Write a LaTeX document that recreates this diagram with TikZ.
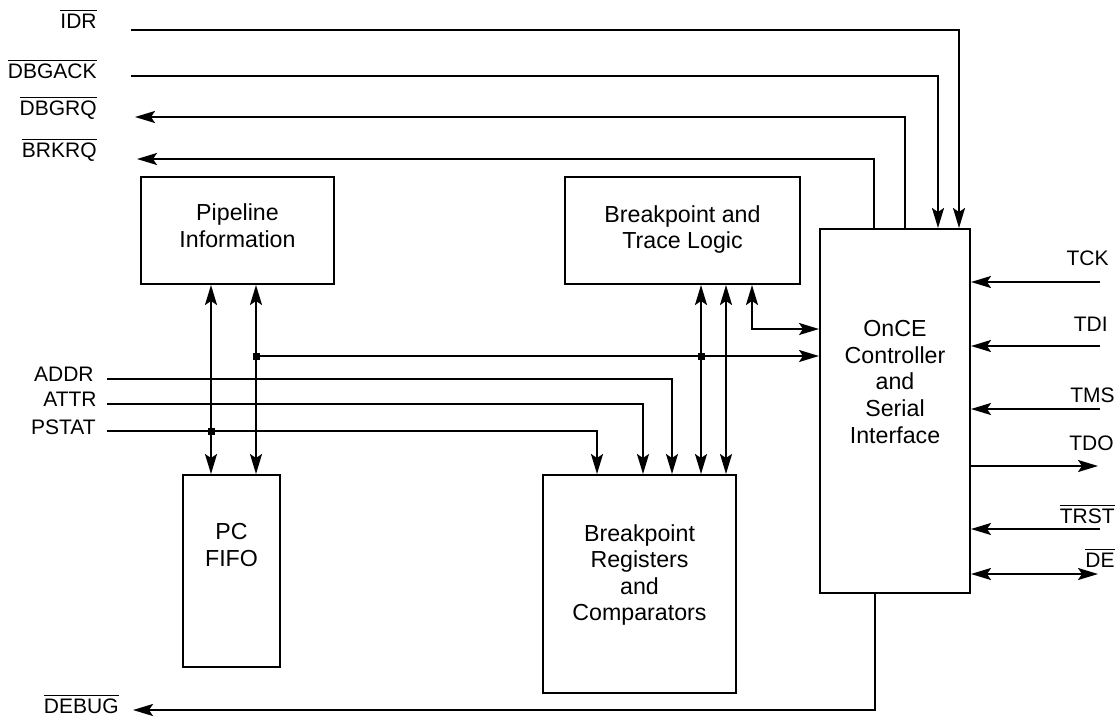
\documentclass[tikz,border=0pt]{standalone}
\usepackage{fontspec}
\setmainfont{Liberation Sans}
\usetikzlibrary{arrows.meta}
\newcommand{\PX}{0.5pt}
\newcommand{\lo}[1]{$\overline{\mbox{#1}}$}

\begin{document}
\begin{tikzpicture}[
    x=\PX, y=-\PX,
    >={Stealth[length=10pt, width=6pt, inset=2pt]},
    wire/.style={draw=black, line width=1pt},
    blk/.style={rectangle, draw=black, line width=1pt, inner sep=0pt},
    txt/.style={align=center, font=\fontsize{11.6}{13.3}\selectfont},
    sig/.style={inner sep=0pt, font=\fontsize{10.5}{12}\selectfont},
    jdot/.style={rectangle, fill=black, minimum size=3.5pt, inner sep=0pt},
  ]
  \useasboundingbox (0,0) rectangle (1118,718);

  % blocks
  \node[blk, minimum width=96.5pt, minimum height=53.5pt,
        label={[txt, yshift=2.5pt]center:Pipeline\\Information}] (pipe) at (237.5,230.5) {};
  \node[blk, minimum width=117.5pt, minimum height=53.5pt,
        label={[txt, yshift=0.5pt]center:Breakpoint and\\Trace Logic}] (trace) at (682.5,230.5) {};
  \node[blk, minimum width=75pt, minimum height=182pt,
        label={[txt, yshift=14.5pt]center:OnCE\\Controller\\and\\Serial\\Interface}] (once) at (895,411) {};
  \node[blk, minimum width=48.5pt, minimum height=96pt,
        label={[txt, yshift=13pt]center:PC\\FIFO}] (fifo) at (231.5,571) {};
  \node[blk, minimum width=96.5pt, minimum height=109pt,
        label={[txt, yshift=4.5pt]center:Breakpoint\\Registers\\and\\Comparators}] (regs) at (639.5,584) {};

  % signal names, left
  \node[sig, anchor=base east] (lidr)    at (97,28)   {\lo{IDR}};
  \node[sig, anchor=base east] (ldbgack) at (97,78)   {\lo{DBGACK}};
  \node[sig, anchor=base east] (ldbgrq)  at (97,115)  {\lo{DBGRQ}};
  \node[sig, anchor=base east] (lbrkrq)  at (97,157)  {\lo{BRKRQ}};
  \node[sig, anchor=base east] (laddr)   at (94,381)  {ADDR};
  \node[sig, anchor=base east] (lattr)   at (97,406)  {ATTR};
  \node[sig, anchor=base east] (lpstat)  at (96,434)  {PSTAT};
  \node[sig, anchor=base east] (ldebug)  at (119,713) {\lo{DEBUG}};

  % signal names, right
  \node[sig, anchor=base east] (ltck)  at (1109,265) {TCK};
  \node[sig, anchor=base east] (ltdi)  at (1108,331) {TDI};
  \node[sig, anchor=base east] (ltms)  at (1115,402) {TMS};
  \node[sig, anchor=base east] (ltdo)  at (1114,450) {TDO};
  \node[sig, anchor=base east] (ltrst) at (1115,523) {\lo{TRST}};
  \node[sig, anchor=base east] (lde)   at (1115,567) {\lo{DE}};

  % free ends of the wires
  \coordinate (idr)    at (131,30);
  \coordinate (dbgack) at (131,76);
  \coordinate (dbgrq)  at (135,117);
  \coordinate (brkrq)  at (137,159);
  \coordinate (debug)  at (133,710);
  \coordinate (addr)   at (107,379);
  \coordinate (attr)   at (107,404);
  \coordinate (pstat)  at (107,431);

  % handshake lines round the top
  \draw[wire, ->] (idr) -| (959,0 |- once.north);
  \draw[wire, ->] (dbgack) -| (938,0 |- once.north);
  \draw[wire, ->] (905,0 |- once.north) |- (dbgrq);
  \draw[wire, ->] (874,0 |- once.north) |- (brkrq);
  \draw[wire, ->] (875,0 |- once.south) |- (debug);

  % JTAG pins
  \foreach \yy/\nm in {282/tck, 346/tdi, 409/tms, 529/trst} {
    \coordinate (\nm) at (1100,\yy);
    \draw[wire, ->] (\nm) -- (\nm -| once.east);
  }
  \coordinate (tdo) at (1098,466);
  \draw[wire, ->] (tdo -| once.east) -- (tdo);
  \coordinate (de) at (1098,574);
  \draw[wire, <->] (de -| once.east) -- (de);

  % bus into the comparators
  \draw[wire, ->] (addr)  -| (672,0 |- regs.north);
  \draw[wire, ->] (attr)  -| (643,0 |- regs.north);
  \draw[wire, ->] (pstat) -| (597,0 |- regs.north);

  % pipeline <-> FIFO
  \draw[wire, <->] (211,0 |- pipe.south) -- (211,0 |- fifo.north);
  \draw[wire, <->] (256,0 |- pipe.south) -- (256,0 |- fifo.north);

  % trace logic <-> comparators
  \draw[wire, <->] (701,0 |- trace.south) -- (701,0 |- regs.north);
  \draw[wire, <->] (726,0 |- trace.south) -- (726,0 |- regs.north);
  \draw[wire, <->] (752,0 |- trace.south) |- (once.west |- 0,329);

  % tapped line to the controller
  \node[jdot] (j1) at (256,356) {};
  \node[jdot] (j2) at (701,356) {};
  \node[jdot] (j3) at (211,431) {};
  \draw[wire, ->] (j1.center) -- (j1 -| once.west);

\end{tikzpicture}
\end{document}
